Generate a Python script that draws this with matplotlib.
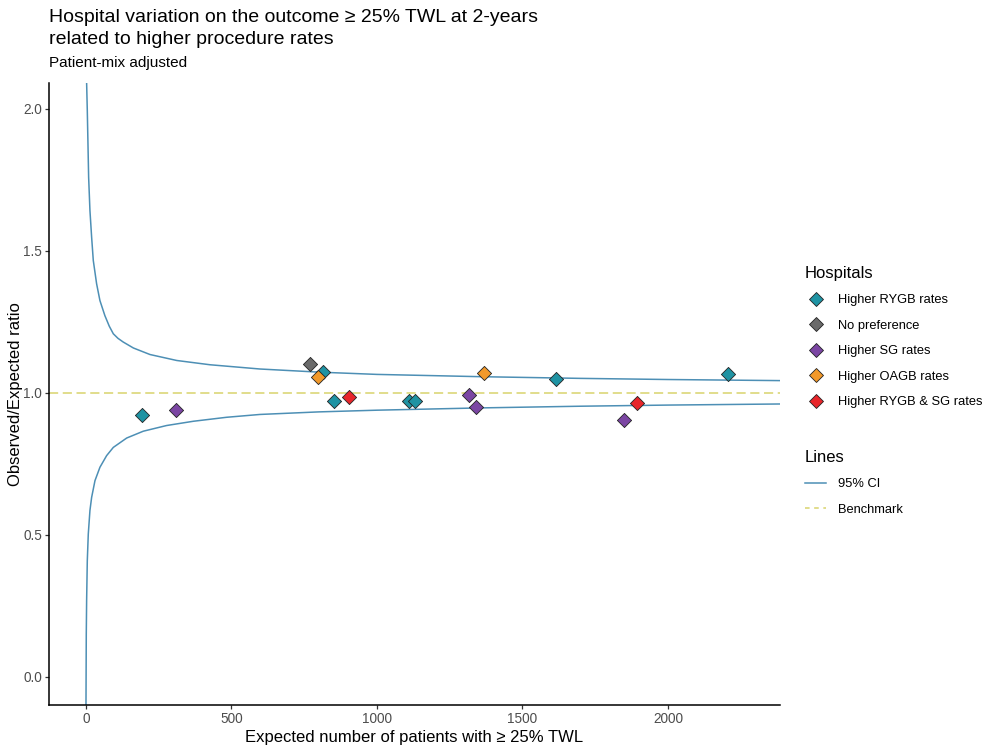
import matplotlib.pyplot as plt
from matplotlib.lines import Line2D

plt.rcParams['font.family'] = ['Liberation Sans', 'DejaVu Sans']

# hospitals: expected count vs observed/expected ratio
expected = [193, 308, 770, 815, 796, 853, 905, 1110, 1131, 1316, 1339, 1367, 1615, 1895, 1850, 2207]
ratio = [0.920, 0.937, 1.101, 1.074, 1.056, 0.971, 0.983, 0.971, 0.972, 0.992, 0.948, 1.069, 1.047, 0.964, 0.904, 1.064]
group = ["Higher RYGB rates", "Higher SG rates", "No preference", "Higher RYGB rates",
         "Higher OAGB rates", "Higher RYGB rates", "Higher RYGB & SG rates", "Higher RYGB rates",
         "Higher RYGB rates", "Higher SG rates", "Higher SG rates", "Higher OAGB rates",
         "Higher RYGB rates", "Higher RYGB & SG rates", "Higher SG rates", "Higher RYGB rates"]

groups = ["Higher RYGB rates", "No preference", "Higher SG rates", "Higher OAGB rates", "Higher RYGB & SG rates"]
colors = ["#1f93a3", "#6a6a6a", "#7b46a3", "#f2992a", "#e8262b"]

# 95% CI funnel
ci_upper_x = [2, 2.3, 4.6, 6.9, 9.2, 13.7, 19.5, 25.2, 36.6, 48, 65, 80, 94, 110, 128, 163, 220, 312, 426,
              598, 800, 1000, 1354, 1700, 2000, 2400]
ci_upper_y = [2.15, 2.09, 1.993, 1.876, 1.758, 1.641, 1.547, 1.465, 1.383, 1.324, 1.271, 1.234, 1.207,
              1.191, 1.178, 1.157, 1.134, 1.113, 1.098, 1.083, 1.072, 1.064, 1.056, 1.050, 1.046, 1.042]
ci_lower_x = [0, 1.1, 2.3, 4.6, 8, 13.7, 19.5, 31, 48, 71, 94, 140, 197, 277, 369, 483, 598,
              800, 1000, 1354, 1700, 2000, 2400]
ci_lower_y = [-0.12, 0.150, 0.268, 0.408, 0.502, 0.585, 0.631, 0.690, 0.737, 0.778, 0.807, 0.840,
              0.864, 0.884, 0.899, 0.913, 0.923, 0.932, 0.938, 0.946, 0.952, 0.956, 0.960]
benchmark = 1.0

ci_col = "#4d8fb5"
bench_col = "#d9d36c"

fig = plt.figure(figsize=(9.92, 7.45), dpi=100)
ax = fig.add_axes([49 / 992, 1 - 705 / 745, (780 - 49) / 992, (705 - 83) / 745])

ax.plot(ci_upper_x, ci_upper_y, color=ci_col, lw=1.1, zorder=2)
ax.plot(ci_lower_x, ci_lower_y, color=ci_col, lw=1.1, zorder=2)
ax.axhline(benchmark, color=bench_col, lw=1.1, dashes=(6, 3), zorder=1)

col_of = dict(zip(groups, colors))
for x, y, g in zip(expected, ratio, group):
    ax.scatter(x, y, marker='D', s=52, color=col_of[g], edgecolor='#222222', linewidth=0.6, zorder=3)

ax.set_xlim(-127, 2385)
ax.set_ylim(-0.10, 2.09)
ax.set_xticks([0, 500, 1000, 1500, 2000])
ax.set_yticks([0.0, 0.5, 1.0, 1.5, 2.0])
ax.set_yticklabels(["0.0", "0.5", "1.0", "1.5", "2.0"])
ax.tick_params(colors='#333333', labelcolor='#4d4d4d', labelsize=9.8, length=3, width=0.9, pad=2)
for s in ['top', 'right']:
    ax.spines[s].set_visible(False)
for s in ['left', 'bottom']:
    ax.spines[s].set_linewidth(1.1)
    ax.spines[s].set_color('black')

ax.set_xlabel("Expected number of patients with \u2265 25% TWL", fontsize=12, labelpad=3)
ax.set_ylabel("Observed/Expected ratio", fontsize=12, labelpad=0)

fig.text(49 / 992, 1 - 9 / 745, "Hospital variation on the outcome \u2265 25% TWL at 2-years\nrelated to higher procedure rates",
         fontsize=14, va='top', ha='left', linespacing=1.4)
fig.text(49 / 992, 1 - 63 / 745, "Patient-mix adjusted", fontsize=11, va='center', ha='left')

hosp_handles = [Line2D([], [], marker='D', ls='none', markersize=7, markerfacecolor=c,
                       markeredgecolor='#222222', markeredgewidth=0.6) for c in colors]
leg1 = fig.legend(hosp_handles, groups, title="Hospitals", loc='upper left',
                  bbox_to_anchor=(805 / 992, 1 - 266 / 745), frameon=False, fontsize=9.3,
                  title_fontsize=12, borderpad=0, borderaxespad=0, labelspacing=1.04,
                  handlelength=1.65, handletextpad=0.93, alignment='left')

line_handles = [Line2D([], [], color=ci_col, lw=1.1),
                Line2D([], [], color=bench_col, lw=1.1, dashes=(3, 3))]
leg2 = fig.legend(line_handles, ["95% CI", "Benchmark"], title="Lines", loc='upper left',
                  bbox_to_anchor=(805 / 992, 1 - 450 / 745), frameon=False, fontsize=9.3,
                  title_fontsize=12, borderpad=0, borderaxespad=0, labelspacing=1.04,
                  handlelength=1.65, handletextpad=0.93, alignment='left')

fig.savefig("out.png", dpi=100)
